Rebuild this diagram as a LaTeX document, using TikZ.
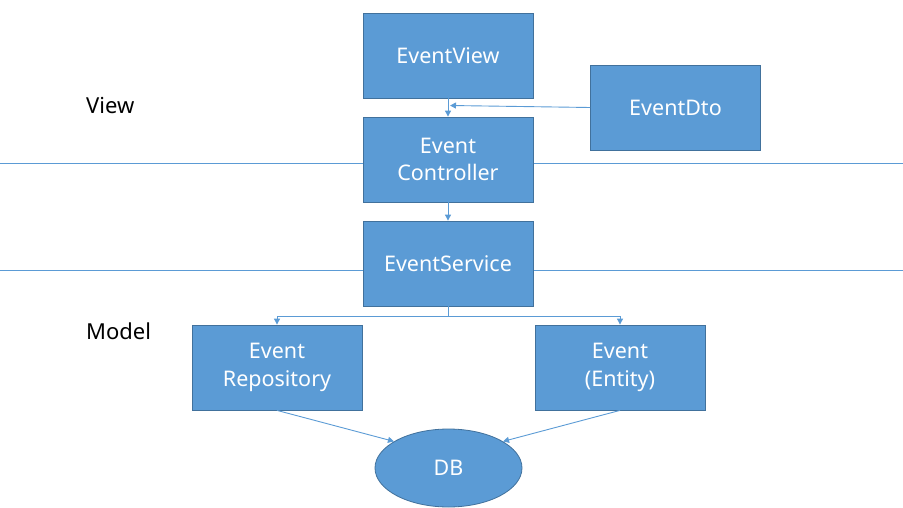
\documentclass[tikz,border=0pt]{standalone}
\usepackage{fontspec}
\setmainfont{Noto Sans}
\usetikzlibrary{shapes.geometric,arrows.meta}
\definecolor{boxfill}{HTML}{5B9BD5}
\definecolor{boxline}{HTML}{41719C}
\begin{document}
\begin{tikzpicture}[x=1pt,y=-1pt,
  blk/.style={draw=boxline,fill=boxfill,line width=0.8pt,minimum width=170pt,minimum height=85pt,
    text=white,font=\fontsize{21.5}{27.5}\selectfont,align=center,inner sep=0pt},
  conn/.style={draw=boxfill,line width=0.9pt,-{Triangle[width=6pt,length=6pt]}},
  sep/.style={draw=boxfill,line width=0.9pt},
  lbl/.style={font=\fontsize{22}{26}\selectfont,text=black}]
\useasboundingbox (0,0) rectangle (903,508);
\coordinate (l1a) at (0,163.5);
\coordinate (l1b) at (903,163.5);
\coordinate (l2a) at (0,270.5);
\coordinate (l2b) at (903,270.5);
\draw[sep] (l1a) -- (l1b);
\draw[sep] (l2a) -- (l2b);
\node[blk] (view) at (448,55.5) {EventView};
\node[blk] (dto) at (675.5,107.5) {EventDto};
\node[blk] (ctrl) at (448,159.5) {Event\\Controller};
\node[blk] (svc) at (448,263.5) {EventService};
\node[blk] (repo) at (277,367.5) {Event\\Repository};
\node[blk] (ent) at (620,367.5) {Event\\(Entity)};
\node[ellipse,draw=boxline,fill=boxfill,line width=0.8pt,minimum width=147pt,minimum height=78pt,
  text=white,font=\fontsize{21.5}{26}\selectfont,inner sep=0pt] (db) at (448.5,468) {DB};
\node[lbl,anchor=west,inner sep=0pt] (vl) at (86,106) {View};
\node[lbl,anchor=west,inner sep=0pt] (ml) at (86,331) {Model};
\draw[conn] (view.south) -- (ctrl.north);
\coordinate (dtoend) at (450,105.5);
\draw[conn] (dto.west) -- (dtoend);
\draw[conn] (ctrl.south) -- (svc.north);
\coordinate (fork) at (448,316);
\draw[sep] (svc.south) -- (fork);
\draw[conn] (fork) -| (repo.north);
\draw[conn] (fork) -| (ent.north);
\draw[conn] (repo.south) -- (db.154);
\draw[conn] (ent.south) -- (db.26);
\end{tikzpicture}
\end{document}
